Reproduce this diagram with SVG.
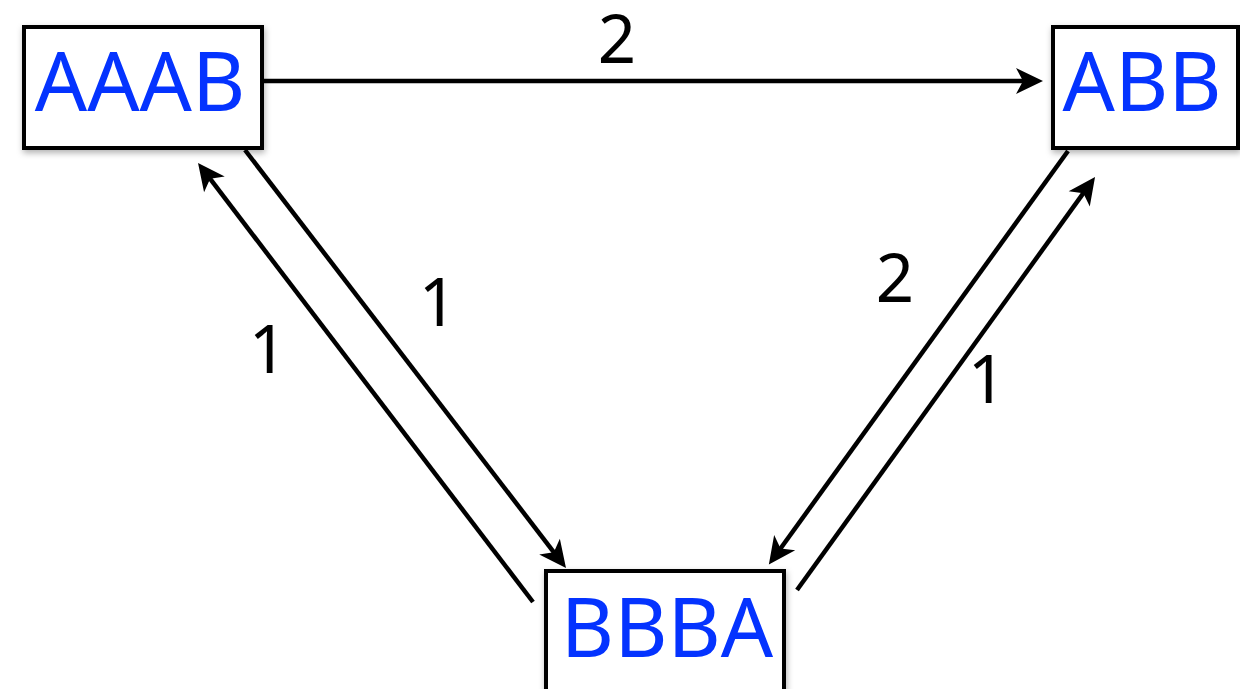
<svg xmlns="http://www.w3.org/2000/svg" width="1240" height="689" viewBox="0 0 1240 689">
  <style>
    .box { fill: #ffffff; stroke: #000000; stroke-width: 4; filter: url(#shadow); }
    .node-label { font-family: "Noto Sans", "Open Sans", sans-serif; font-size: 82px; fill: #0433FF; text-anchor: middle; }
    .edge { stroke: #000000; stroke-width: 4.5; fill: none; marker-end: url(#arrow); }
    .edge-label { font-family: "Noto Sans", "Open Sans", sans-serif; font-size: 67px; fill: #000000; text-anchor: middle; }
  </style>
  <defs>
    <filter id="shadow" x="-10%" y="-10%" width="120%" height="130%">
      <feDropShadow dx="1" dy="3" stdDeviation="3" flood-color="#000000" flood-opacity="0.3"/>
    </filter>
    <marker id="arrow" markerUnits="userSpaceOnUse" markerWidth="32" markerHeight="32" viewBox="0 0 32 32" refX="19" refY="16" orient="auto">
      <path d="M30,16 L3,3 L10,16 L3,29 Z" fill="#000000"/>
    </marker>
  </defs>
  <rect width="1240" height="689" fill="#ffffff"/>

  <g id="connectors">
    <line class="edge" x1="264" y1="81" x2="1032" y2="81"/>
    <line class="edge" x1="245" y1="150" x2="559.3" y2="559.3"/>
    <line class="edge" x1="533" y1="602" x2="204.7" y2="171.7"/>
    <line class="edge" x1="1068" y1="151" x2="775.3" y2="555.7"/>
    <line class="edge" x1="797" y1="590" x2="1088.6" y2="185.9"/>
    <text class="edge-label" x="617" y="63">2</text>
    <text class="edge-label" x="438" y="326">1</text>
    <text class="edge-label" x="268" y="373">1</text>
    <text class="edge-label" x="895" y="302">2</text>
    <text class="edge-label" x="987" y="403">1</text>
  </g>

  <g id="node-AAAB">
    <rect class="box" x="24" y="27" width="238" height="121"/>
    <text class="node-label" x="140" y="111">AAAB</text>
  </g>
  <g id="node-ABB">
    <rect class="box" x="1053" y="27" width="185" height="121"/>
    <text class="node-label" x="1142" y="111">ABB</text>
  </g>
  <g id="node-BBBA">
    <rect class="box" x="546" y="571" width="238" height="130"/>
    <text class="node-label" x="667" y="657">BBBA</text>
  </g>
</svg>
